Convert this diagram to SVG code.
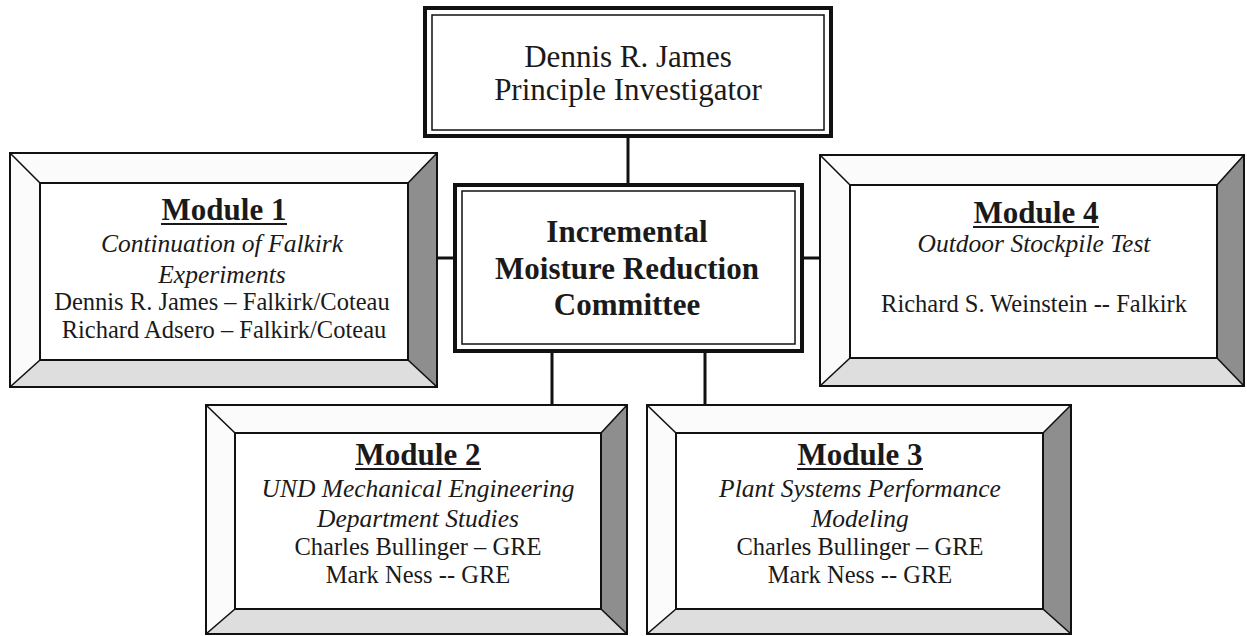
<svg xmlns="http://www.w3.org/2000/svg" width="1247" height="636" viewBox="0 0 1247 636">
<style>
.bg{fill:#ffffff}
.face{fill:#ffffff;stroke:#111;stroke-width:2}
.outer{fill:none;stroke:#111;stroke-width:2}
.bevL{fill:#fbfbfb}
.bevR{fill:#8e8e8e}
.bevB{fill:#dedede}
.diag{stroke:#111;stroke-width:1.6}
.conn{stroke:#111;stroke-width:3;fill:none}
.dblO{fill:#fff;stroke:#111;stroke-width:4}
.dblI{fill:none;stroke:#111;stroke-width:1.5}
text{font-family:"Liberation Serif","Times New Roman",serif;fill:#1a1a1a;text-anchor:middle}
.t30{font-size:31px}
.tb{font-size:31px;font-weight:bold}
.ti{font-size:25.5px;font-style:italic}
.tr{font-size:24.5px}
.ul{stroke:#1a1a1a;stroke-width:2}
</style>
<rect class="bg" x="0" y="0" width="1247" height="636"/>

<g id="connectors">
<line class="conn" x1="628" y1="136" x2="628" y2="184"/>
<line class="conn" x1="437" y1="258" x2="455" y2="258"/>
<line class="conn" x1="802" y1="258" x2="820" y2="258"/>
<line class="conn" x1="552" y1="351" x2="552" y2="405"/>
<line class="conn" x1="705" y1="351" x2="705" y2="405"/>
</g>

<g id="pi">
<rect class="dblO" x="425" y="8" width="406" height="128"/>
<rect class="dblI" x="432" y="15" width="392" height="115"/>
<text class="t30" x="628" y="67">Dennis R. James</text>
<text class="t30" x="628" y="100">Principle Investigator</text>
</g>

<g id="committee">
<rect class="dblO" x="455" y="185" width="347" height="166"/>
<rect class="dblI" x="462" y="191" width="333" height="153"/>
<text class="tb" x="627" y="242">Incremental</text>
<text class="tb" x="627" y="279">Moisture Reduction</text>
<text class="tb" x="627" y="315">Committee</text>
</g>

<g id="module1">
<polygon class="bevL" points="10,153 437,153 408,183 40,183 40,360 10,387"/>
<polygon class="bevR" points="437,153 437,387 408,360 408,183"/>
<polygon class="bevB" points="10,387 437,387 408,360 40,360"/>
<rect class="outer" x="10" y="153" width="427" height="234"/>
<rect class="face" x="40" y="183" width="368" height="177"/>
<line class="diag" x1="10" y1="153" x2="40" y2="183"/>
<line class="diag" x1="437" y1="153" x2="408" y2="183"/>
<line class="diag" x1="10" y1="387" x2="40" y2="360"/>
<line class="diag" x1="437" y1="387" x2="408" y2="360"/>
<text class="tb" x="224" y="220">Module 1</text>
<line class="ul" x1="161" y1="224" x2="287" y2="224"/>
<text class="ti" x="222" y="252">Continuation of Falkirk</text>
<text class="ti" x="222" y="283">Experiments</text>
<text class="tr" x="222" y="310">Dennis R. James – Falkirk/Coteau</text>
<text class="tr" x="224" y="338">Richard Adsero – Falkirk/Coteau</text>
</g>

<g id="module4">
<polygon class="bevL" points="820,155 1244,155 1217,185 850,185 850,358 820,386"/>
<polygon class="bevR" points="1244,155 1244,386 1217,358 1217,185"/>
<polygon class="bevB" points="820,386 1244,386 1217,358 850,358"/>
<rect class="outer" x="820" y="155" width="424" height="231"/>
<rect class="face" x="850" y="185" width="367" height="173"/>
<line class="diag" x1="820" y1="155" x2="850" y2="185"/>
<line class="diag" x1="1244" y1="155" x2="1217" y2="185"/>
<line class="diag" x1="820" y1="386" x2="850" y2="358"/>
<line class="diag" x1="1244" y1="386" x2="1217" y2="358"/>
<text class="tb" x="1036" y="223">Module 4</text>
<line class="ul" x1="973" y1="227" x2="1099" y2="227"/>
<text class="ti" x="1034" y="252">Outdoor Stockpile Test</text>
<text class="tr" x="1034" y="312">Richard S. Weinstein -- Falkirk</text>
</g>

<g id="module2">
<polygon class="bevL" points="206,405 627,405 601,433 235,433 235,609 206,634"/>
<polygon class="bevR" points="627,405 627,634 601,609 601,433"/>
<polygon class="bevB" points="206,634 627,634 601,609 235,609"/>
<rect class="outer" x="206" y="405" width="421" height="229"/>
<rect class="face" x="235" y="433" width="366" height="176"/>
<line class="diag" x1="206" y1="405" x2="235" y2="433"/>
<line class="diag" x1="627" y1="405" x2="601" y2="433"/>
<line class="diag" x1="206" y1="634" x2="235" y2="609"/>
<line class="diag" x1="627" y1="634" x2="601" y2="609"/>
<text class="tb" x="418" y="465">Module 2</text>
<line class="ul" x1="355" y1="469" x2="481" y2="469"/>
<text class="ti" x="418" y="497">UND Mechanical Engineering</text>
<text class="ti" x="418" y="527">Department Studies</text>
<text class="tr" x="418" y="555">Charles Bullinger – GRE</text>
<text class="tr" x="418" y="583">Mark Ness -- GRE</text>
</g>

<g id="module3">
<polygon class="bevL" points="647,405 1071,405 1043,433 676,433 676,609 647,634"/>
<polygon class="bevR" points="1071,405 1071,634 1043,609 1043,433"/>
<polygon class="bevB" points="647,634 1071,634 1043,609 676,609"/>
<rect class="outer" x="647" y="405" width="424" height="229"/>
<rect class="face" x="676" y="433" width="367" height="176"/>
<line class="diag" x1="647" y1="405" x2="676" y2="433"/>
<line class="diag" x1="1071" y1="405" x2="1043" y2="433"/>
<line class="diag" x1="647" y1="634" x2="676" y2="609"/>
<line class="diag" x1="1071" y1="634" x2="1043" y2="609"/>
<text class="tb" x="860" y="465">Module 3</text>
<line class="ul" x1="797" y1="469" x2="923" y2="469"/>
<text class="ti" x="860" y="497">Plant Systems Performance</text>
<text class="ti" x="860" y="527">Modeling</text>
<text class="tr" x="860" y="555">Charles Bullinger – GRE</text>
<text class="tr" x="860" y="583">Mark Ness -- GRE</text>
</g>
</svg>
